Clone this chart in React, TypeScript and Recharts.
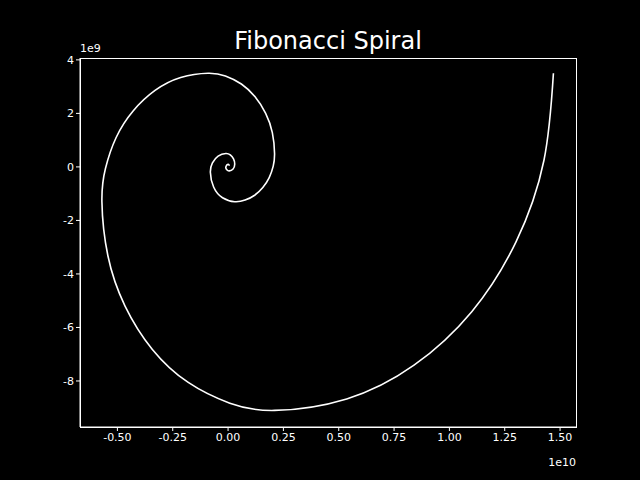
import React from "react";
import { LineChart, Line, XAxis, YAxis } from "recharts";

// x in units of 1e10, y in units of 1e9
const xs = [1.47, 1.427, 1.301, 1.101, 0.84, 0.536, 0.21, 0.008, -0.18, -0.342, -0.4655, -0.543, -0.57, -0.554, -0.5057, -0.429, -0.33, -0.214, -0.09, -0.012, 0.06, 0.122, 0.1698, 0.2, 0.21, 0.204, 0.1859, 0.157, 0.12, 0.077, 0.03, -0.025, -0.0653, -0.08, -0.0706, -0.045, -0.01, 0.01, 0.0246, 0.03, 0.0227, 0.005, -0.0056, -0.01, 0.0, 0.006];
const ys = [3.5, 0.24, -2.8, -5.41, -7.41, -8.67, -9.1, -8.83, -8.055, -6.82, -5.2, -3.32, -1.3, -0.06, 1.1, 2.09, 2.857, 3.34, 3.5, 3.4, 3.098, 2.62, 2.0, 1.28, 0.5, 0.03, -0.4, -0.77, -1.059, -1.24, -1.3, -1.153, -0.75, -0.2, 0.15, 0.406, 0.5, 0.446, 0.3, 0.1, -0.077, -0.15, -0.106, 0.0, 0.1, 0.04];
const xTicks = [-0.5, -0.25, 0, 0.25, 0.5, 0.75, 1.0, 1.25, 1.5];
const yTicks = [-8, -6, -4, -2, 0, 2, 4];

const data = xs.map((x, i) => ({ x, y: ys[i] }));
const font = "DejaVu Sans, sans-serif";
const tick = { fill: "#fff", fontSize: 11, fontFamily: font };

export default function App() {
  return (
    <div style={{ position: "absolute", left: 0, top: 0, width: 640, height: 480, background: "#000" }}>
      <LineChart width={640} height={480} data={data} margin={{ top: 58, right: 64, bottom: 23, left: 40 }}>
        <XAxis type="number" dataKey="x" domain={[-0.669, 1.572]} ticks={xTicks} allowDataOverflow
          tickFormatter={(v: number) => v.toFixed(2)} tick={tick} stroke="#fff" tickSize={4} height={30} interval={0} />
        <YAxis type="number" domain={[-9.72, 4.07]} ticks={yTicks} allowDataOverflow tick={tick} stroke="#fff" tickSize={4} width={40} interval={0} />
        <Line type="natural" dataKey="y" stroke="#fff" strokeWidth={1.6} dot={false} isAnimationActive={false} />
        <text x={328} y={49} textAnchor="middle" fill="#fff" fontSize={24} fontFamily={font}>Fibonacci Spiral</text>
        <text x={80} y={52} fill="#fff" fontSize={11} fontFamily={font}>1e9</text>
        <text x={576} y={466} textAnchor="end" fill="#fff" fontSize={11} fontFamily={font}>1e10</text>
      </LineChart>
      <div style={{ position: "absolute", left: 80, top: 58, width: 495, height: 368, border: "1px solid #fff", pointerEvents: "none" }} />
    </div>
  );
}
